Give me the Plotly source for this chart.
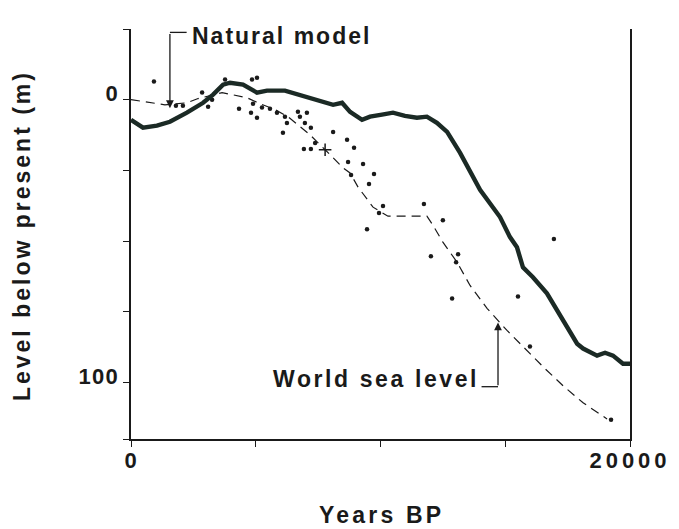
import plotly.graph_objects as go

# Natural model (thick line)
years_model = [0, 480, 1040, 1560, 2240, 2890, 3290, 3690, 3970, 4490, 5050, 5450, 6170, 6970,
               7650, 8100, 8460, 8780, 9260, 9580, 10060, 10500, 10980, 11460, 11860, 12260,
               12670, 13190, 13990, 14790, 15190, 15470, 15710, 16110, 16670, 17320, 17880,
               18120, 18680, 19000, 19320, 19720, 20000]
level_model = [7.1, 9.9, 9.2, 7.8, 4.6, 1.1, -1.8, -5.3, -6.0, -5.3, -2.5, -3.2, -3.2, -1.1,
               0.7, 1.8, 1.1, 4.3, 7.1, 6.0, 5.3, 4.6, 5.7, 6.4, 6.0, 8.2,
               11.4, 18.8, 31.9, 41.5, 48.6, 52.2, 59.3, 62.8, 68.5, 78.1, 86.3,
               88.0, 90.5, 89.5, 90.5, 93.4, 93.4]

# World sea level (dashed line)
years_world = [0, 1360, 2240, 2690, 3650, 4250, 4650, 5090, 5770, 6290, 6770, 7170, 7780, 8500,
               8780, 9100, 9700, 10300, 11860, 12100, 12500, 13070, 13590, 14270, 15070, 15790,
               16590, 17320, 18120, 19080]
level_world = [0, 1.8, 1.1, -0.4, -2.5, -1.4, -0.7, 1.1, 3.5, 6.0, 9.6, 12.4, 17.7, 24.1,
               25.9, 30.9, 38.0, 41.2, 41.2, 44.4, 50.4, 57.5, 65.7, 73.8, 81.6, 88.0,
               95.1, 101.2, 107.2, 112.9]

# Observed sea-level points (dots)
years_obs = [920, 1800, 2080, 2850, 3090, 3250, 3770, 4330, 4810, 5050, 4850, 5050, 4890, 5250,
             5570, 5850, 6170, 6250, 6090, 6690, 7050, 6770, 6970, 7210, 7380, 6930, 7210,
             8100, 8660, 8940, 8700, 9300, 9740, 9540, 8820, 10100, 9940, 9460, 11740, 12500,
             12020, 13110, 13030, 12870, 16950, 15510, 15990, 19240]
level_obs = [-6.4, 2.1, 2.1, -2.5, 2.5, 0.0, -7.1, 3.2, 4.6, 6.4, -7.1, -7.8, 1.4, 2.8,
             3.2, 4.6, 6.0, 8.2, 11.7, 4.3, 4.6, 6.0, 8.2, 9.9, 15.3, 17.4, 17.4,
             11.4, 14.2, 17.0, 22.0, 22.7, 26.3, 29.8, 26.6, 37.6, 40.1, 45.8, 36.9, 42.6,
             55.4, 54.7, 57.5, 70.3, 49.3, 69.6, 87.3, 113.2]

years_cross = [7780]
level_cross = [17.7]

x_tickvals = [0, 5000, 10000, 15000, 20000]
x_ticktext = ["0", "", "", "", "20000"]
y_tickvals = [-25, 0, 25, 50, 75, 100, 120]
y_ticktext = ["", "0", "", "", "", "100", ""]

INK = "#1a1a1a"
FONT = "Liberation Sans"


def spaced(t, ls=2):
    return f'<span style="letter-spacing:{ls}px">{t}</span>' if t else ""


fig = go.Figure()
fig.add_trace(go.Scatter(x=years_world, y=level_world, mode="lines",
                         line=dict(color=INK, width=1.2, dash="9px,6px"),
                         hoverinfo="skip", showlegend=False))
fig.add_trace(go.Scatter(x=years_obs, y=level_obs, mode="markers",
                         marker=dict(color=INK, size=4.5),
                         showlegend=False))
fig.add_trace(go.Scatter(x=years_cross, y=level_cross, mode="markers",
                         marker=dict(color=INK, size=9, symbol="cross-thin",
                                     line=dict(color=INK, width=1.5)),
                         showlegend=False))
fig.add_trace(go.Scatter(x=years_model, y=level_model, mode="lines",
                         line=dict(color="#1b2a25", width=4.4),
                         showlegend=False))

# Leader lines and labels
leader = dict(color=INK, width=1.3)
fig.add_shape(type="line", x0=1560, x1=2230, y0=-23.8, y1=-23.8, line=leader)
fig.add_annotation(x=1560, y=3.0, ax=1560, ay=-23.8, axref="x", ayref="y",
                   xref="x", yref="y", text="", showarrow=True, arrowhead=2,
                   arrowsize=1.2, arrowwidth=1.3, arrowcolor=INK)
fig.add_annotation(x=2370, y=-23.8, xref="x", yref="y", text=spaced("Natural model", 2),
                   showarrow=False, xanchor="left", yanchor="middle", yshift=-4,
                   font=dict(family=FONT, size=23, color=INK, weight="bold"))

fig.add_shape(type="line", x0=14050, x1=14710, y0=101.5, y1=101.5, line=leader)
fig.add_annotation(x=14710, y=78.8, ax=14710, ay=101.5, axref="x", ayref="y",
                   xref="x", yref="y", text="", showarrow=True, arrowhead=2,
                   arrowsize=1.2, arrowwidth=1.3, arrowcolor=INK)
fig.add_annotation(x=14030, y=101.5, xref="x", yref="y", text=spaced("World sea level", 2.6),
                   showarrow=False, xanchor="right", yanchor="middle", yshift=8,
                   font=dict(family=FONT, size=23, color=INK, weight="bold"))

# Axis titles
fig.add_annotation(x=-109 / 499, y=0.495, xref="paper", yref="paper",
                   text=spaced("Level below present (m)", 3), textangle=-90,
                   showarrow=False, xanchor="center", yanchor="middle",
                   font=dict(family=FONT, size=23, color=INK, weight="bold"))
fig.add_annotation(x=0.502, y=-76 / 410, xref="paper", yref="paper",
                   text=spaced("Years BP", 3.2), showarrow=False,
                   xanchor="center", yanchor="middle",
                   font=dict(family=FONT, size=23, color=INK, weight="bold"))

x_sp = {"0": 1, "20000": 4}
y_sp = {"0": 1, "100": 1.2}

fig.update_xaxes(range=[0, 20000], showgrid=False, zeroline=False, automargin=False,
                 showline=True, linecolor=INK, linewidth=1.5, mirror=False,
                 ticks="outside", ticklen=6, tickwidth=1.3, tickcolor=INK,
                 tickvals=x_tickvals,
                 ticktext=[spaced(t, x_sp.get(t, 0)) for t in x_ticktext],
                 ticklabelstandoff=-5,
                 tickfont=dict(family=FONT, size=22, color=INK, weight="bold"))
fig.update_yaxes(range=[120, -25], showgrid=False, zeroline=False, automargin=False,
                 showline=True, linecolor=INK, linewidth=1.5, mirror=True,
                 ticks="outside", ticklen=6, tickwidth=1.3, tickcolor=INK,
                 tickvals=y_tickvals,
                 ticktext=[spaced(t, y_sp.get(t, 0)) for t in y_ticktext],
                 ticklabelshift=6,
                 tickfont=dict(family=FONT, size=22, color=INK, weight="bold"))

fig.update_layout(width=679, height=529,
                  margin=dict(l=131, r=49, t=29, b=90),
                  paper_bgcolor="white", plot_bgcolor="white",
                  showlegend=False)

fig.write_html("out.html")
